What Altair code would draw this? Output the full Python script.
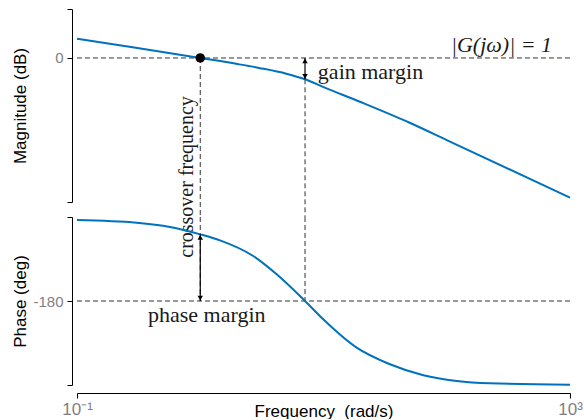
import altair as alt
import pandas as pd

# ---------------- data ----------------
mag_w = [0.1, 0.3, 1.0, 2.0, 3.0, 5.0, 7.08, 10.0, 20.0, 50.0, 100.0, 1000.0]
mag_db = [13.4, 7.1, 0.0, -4.2, -6.9, -10.9, -14.8, -20.2, -30.6, -45.0, -57.0, -97.0]

phase_w = [0.1, 0.305, 0.568, 1.0, 1.445, 2.694, 4.17, 7.08, 9.95, 18.58, 34.6, 64.6, 120.5, 224.5, 1000.0]
phase_deg = [-93.2, -96.1, -100.7, -108.6, -115.0, -131.8, -151.4, -180.0, -199.6, -230.0,
             -247.8, -259.6, -265.7, -268.2, -269.7]

freq_range = [0.1, 1000.0]
mag_domain = [-100, 34]
phase_domain = [-270, -90]

crossover_w = 1.0
gain_w = 7.08
gain_margin_db = -14.8
phase_at_cross = -108.6
phase_ref = -180.0
mag_ref = 0.0
# the dashed verticals run from the upper panel down into the lower one
mag_link = -110.4

x_ticks = [0.1, 1000.0]
mag_ticks = [-100, 0, 34]
phase_ticks = [-270, -180, -90]

# annotation anchors (frequency, value)
g1_pos = (715.0, 0.0)
gm_pos = (9.0, -9.7)
pm_pos = (0.377, -195.0)
cf_pos = (0.781, -82.6)

# ---------------- styling ----------------
BLUE = "#0072BD"
DASH = "#333333"
TXT = "#1a1a1a"
SANS = "Liberation Sans"
SERIF = "Liberation Serif"
W = 493
H_TOP = 193
H_BOT = 168

xs = alt.Scale(type="log", domain=freq_range, nice=False)
ms = alt.Scale(domain=mag_domain, nice=False, zero=False)
ps = alt.Scale(domain=phase_domain, nice=False, zero=False)

common_axis = dict(domainColor="black", tickColor="black", tickSize=5, labelColor="#7f7f7f",
                   labelFont=SANS, labelFontSize=15, titleFont=SANS, titleFontSize=17,
                   titleFontWeight="normal", titleColor="black", grid=False, offset=5,
                   labelPadding=4)

mag_axis = alt.Axis(title="Magnitude (dB)", values=mag_ticks,
                    labelExpr="datum.value == 0 ? '0' : ''", titleX=-47,
                    titleBaseline="alphabetic", **common_axis)
phase_axis = alt.Axis(title="Phase (deg)", values=phase_ticks,
                      labelExpr="datum.value == -180 ? '-180' : ''", titleX=-47,
                      titleBaseline="alphabetic", **common_axis)
x_axis = alt.Axis(title="Frequency \u00a0(rad/s)", values=x_ticks,
                  labelExpr="datum.value < 1 ? '10\u207b\u00b9' : '10\u00b3'",
                  domainColor="black", tickColor="black", tickSize=5, labelColor="#7f7f7f",
                  labelFont=SANS, labelFontSize=17, labelFlush=False,
                  titleFont=SANS, titleFontSize=17,
                  titleFontWeight="normal", titleColor="black", grid=False, offset=8,
                  labelPadding=3, titleY=23, titleBaseline="alphabetic")

mag_df = pd.DataFrame({"w": mag_w, "v": mag_db})
ph_df = pd.DataFrame({"w": phase_w, "v": phase_deg})


def X(field="w", axis=None):
    return alt.X(f"{field}:Q", scale=xs, axis=axis)


# ---------------- top panel ----------------
def YM(field="v"):
    return alt.Y(f"{field}:Q", scale=ms, axis=mag_axis)


top_curve = alt.Chart(mag_df).mark_line(color=BLUE, strokeWidth=2, interpolate="monotone").encode(
    x=X(), y=YM())

h0 = alt.Chart(pd.DataFrame({"a": [freq_range[0]], "b": [freq_range[1]], "v": [mag_ref]})).mark_rule(
    color=DASH, strokeDash=[5, 3], strokeWidth=1).encode(x=X("a"), x2="b:Q", y=YM())

vtop = alt.Chart(pd.DataFrame({"w": [crossover_w, gain_w], "a": [mag_ref, gain_margin_db],
                               "b": [mag_link, mag_link]})).mark_rule(
    color=DASH, strokeDash=[5, 3], strokeWidth=1, clip=False).encode(x=X(), y=YM("a"), y2="b:Q")

gm_arrow = alt.Chart(pd.DataFrame({"w": [gain_w], "a": [mag_ref], "b": [gain_margin_db]})).mark_rule(
    color="black", strokeWidth=1.2).encode(x=X(), y=YM("a"), y2="b:Q")
gm_head_up = alt.Chart(pd.DataFrame({"w": [gain_w], "v": [mag_ref]})).mark_point(
    shape="triangle-up", filled=True, color="black", size=30, opacity=1, yOffset=3).encode(x=X(), y=YM())
gm_head_dn = alt.Chart(pd.DataFrame({"w": [gain_w], "v": [gain_margin_db]})).mark_point(
    shape="triangle-down", filled=True, color="black", size=30, opacity=1, yOffset=-3).encode(x=X(), y=YM())

dot = alt.Chart(pd.DataFrame({"w": [crossover_w], "v": [mag_ref]})).mark_circle(
    color="black", size=90, opacity=1).encode(x=X(), y=YM())

g1_text = alt.Chart(pd.DataFrame({"w": [g1_pos[0]], "v": [g1_pos[1]], "t": ["|G(jω)| = 1"]})).mark_text(
    font=SERIF, fontSize=22, fontStyle="italic", align="right", baseline="alphabetic", dy=-6,
    color=TXT).encode(x=X(), y=YM(), text="t:N")

gm_text = alt.Chart(pd.DataFrame({"w": [gm_pos[0]], "v": [gm_pos[1]], "t": ["gain margin"]})).mark_text(
    font=SERIF, fontSize=22, align="left", baseline="middle", color=TXT).encode(
    x=X(), y=YM(), text="t:N")

cf_text = alt.Chart(pd.DataFrame({"w": [cf_pos[0]], "v": [cf_pos[1]], "t": ["crossover frequency"]})).mark_text(
    font=SERIF, fontSize=20, align="center", baseline="middle", angle=270, color=TXT).encode(
    x=X(), y=YM(), text="t:N")

top = alt.layer(h0, vtop, top_curve, gm_arrow, gm_head_up, gm_head_dn, dot, g1_text, gm_text,
                cf_text).properties(width=W, height=H_TOP)


# ---------------- bottom panel ----------------
def YP(field="v"):
    return alt.Y(f"{field}:Q", scale=ps, axis=phase_axis)


bot_curve = alt.Chart(ph_df).mark_line(color=BLUE, strokeWidth=2, interpolate="monotone").encode(
    x=X(axis=x_axis), y=YP())

h180 = alt.Chart(pd.DataFrame({"w": [freq_range[0]], "b": [freq_range[1]], "v": [phase_ref]})).mark_rule(
    color=DASH, strokeDash=[5, 3], strokeWidth=1).encode(x=X(axis=x_axis), x2="b:Q", y=YP())

vbot = alt.Chart(pd.DataFrame({"w": [crossover_w, gain_w], "a": [phase_domain[1], phase_domain[1]],
                               "b": [phase_ref, phase_ref]})).mark_rule(
    color=DASH, strokeDash=[5, 3], strokeWidth=1).encode(x=X(axis=x_axis), y=YP("a"), y2="b:Q")

pm_arrow = alt.Chart(pd.DataFrame({"w": [crossover_w], "a": [phase_at_cross], "b": [phase_ref]})).mark_rule(
    color="black", strokeWidth=1.2).encode(x=X(axis=x_axis), y=YP("a"), y2="b:Q")
pm_head_up = alt.Chart(pd.DataFrame({"w": [crossover_w], "v": [phase_at_cross]})).mark_point(
    shape="triangle-up", filled=True, color="black", size=30, opacity=1, yOffset=3).encode(
    x=X(axis=x_axis), y=YP())
pm_head_dn = alt.Chart(pd.DataFrame({"w": [crossover_w], "v": [phase_ref]})).mark_point(
    shape="triangle-down", filled=True, color="black", size=30, opacity=1, yOffset=-3).encode(
    x=X(axis=x_axis), y=YP())

pm_text = alt.Chart(pd.DataFrame({"w": [pm_pos[0]], "v": [pm_pos[1]], "t": ["phase margin"]})).mark_text(
    font=SERIF, fontSize=22, align="left", baseline="middle", color=TXT).encode(
    x=X(axis=x_axis), y=YP(), text="t:N")

bottom = alt.layer(h180, vbot, bot_curve, pm_arrow, pm_head_up, pm_head_dn, pm_text).properties(
    width=W, height=H_BOT)

chart = alt.vconcat(top, bottom, spacing=15, bounds="flush").properties(
    padding={"left": 11, "top": 8, "right": 0, "bottom": 0},
    background="white",
).configure_view(stroke=None)

chart.save("out.html", embed_options={"renderer": "svg", "actions": False})
